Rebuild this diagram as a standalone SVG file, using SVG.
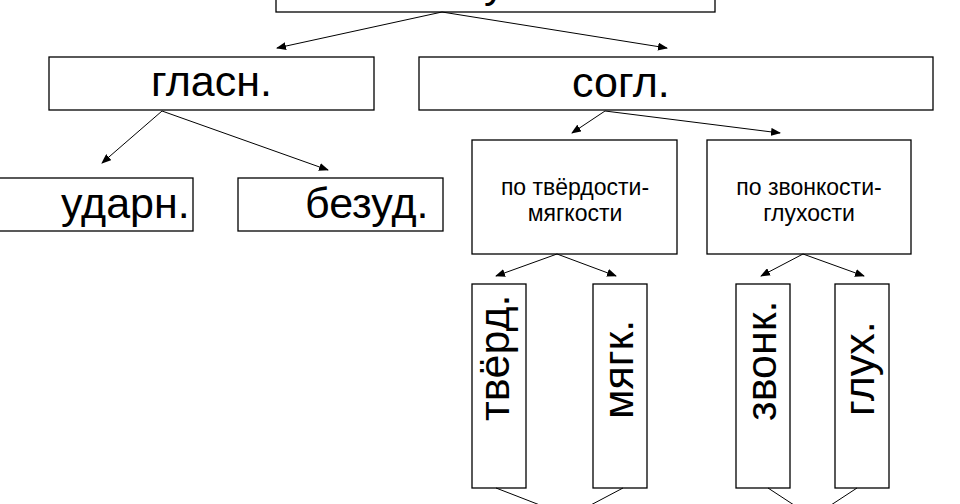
<svg xmlns="http://www.w3.org/2000/svg" width="960" height="504" viewBox="0 0 960 504">
<defs>
<style>
rect{fill:#fff;stroke:#000;stroke-width:1.3}
.big{font-family:"Liberation Sans",Arial,sans-serif;font-size:43px;fill:#000}
.small{font-family:"Liberation Sans",Arial,sans-serif;font-size:23px;fill:#000;text-anchor:middle}
.conn line{stroke:#000;stroke-width:1}
</style>
<marker id="ah" markerWidth="10" markerHeight="8" refX="9" refY="4" orient="auto" markerUnits="userSpaceOnUse">
<path d="M0,0 L10,4 L0,8 Z" fill="#000"/>
</marker>
</defs>
<rect width="960" height="504" fill="#fff" style="stroke:none"/>
<g id="root"><rect x="276" y="-20" width="439" height="32"/><text class="big" x="484" y="-3">у</text></g>
<g id="glasn"><rect x="49" y="57" width="325" height="53"/><text class="big" x="151" y="96">гласн.</text></g>
<g id="sogl"><rect x="419" y="57" width="514" height="53"/><text class="big" x="572" y="97">согл.</text></g>
<g id="udarn"><rect x="-5" y="178" width="198" height="53"/><text class="big" x="61" y="218">ударн.</text></g>
<g id="bezud"><rect x="238" y="178" width="205" height="53"/><text class="big" x="305" y="218">безуд.</text></g>
<g id="tverd-myagk"><rect x="472" y="140" width="205" height="114"/><text class="small" x="575" y="195">по твёрдости-</text><text class="small" x="575" y="221">мягкости</text></g>
<g id="zvon-gluh"><rect x="707" y="140" width="204" height="114"/><text class="small" x="809" y="195">по звонкости-</text><text class="small" x="809" y="221">глухости</text></g>
<g id="tverd"><rect x="472" y="284" width="54" height="204"/><text class="big" transform="translate(509,421) rotate(-90)">твёрд.</text></g>
<g id="myagk"><rect x="593" y="284" width="54" height="204"/><text class="big" transform="translate(633,419) rotate(-90)">мягк.</text></g>
<g id="zvonk"><rect x="736" y="284" width="54" height="204"/><text class="big" transform="translate(776,421) rotate(-90)">звонк.</text></g>
<g id="gluh"><rect x="835" y="284" width="54" height="204"/><text class="big" transform="translate(874,416) rotate(-90)">глух.</text></g>
<g class="conn" id="connectors">
<line x1="442" y1="12" x2="277" y2="48" marker-end="url(#ah)"/>
<line x1="442" y1="12" x2="667" y2="48" marker-end="url(#ah)"/>
<line x1="162" y1="111" x2="102" y2="163" marker-end="url(#ah)"/>
<line x1="162" y1="111" x2="328" y2="170" marker-end="url(#ah)"/>
<line x1="605" y1="111" x2="572" y2="133" marker-end="url(#ah)"/>
<line x1="605" y1="111" x2="780" y2="133" marker-end="url(#ah)"/>
<line x1="557" y1="254" x2="496" y2="276" marker-end="url(#ah)"/>
<line x1="557" y1="254" x2="616" y2="276" marker-end="url(#ah)"/>
<line x1="803" y1="254" x2="761" y2="276" marker-end="url(#ah)"/>
<line x1="803" y1="254" x2="864" y2="276" marker-end="url(#ah)"/>
<line x1="496" y1="488" x2="545" y2="507"/>
<line x1="623" y1="488" x2="587" y2="507"/>
<line x1="768" y1="488" x2="797" y2="507"/>
<line x1="857" y1="488" x2="828" y2="507"/>
</g>
</svg>
